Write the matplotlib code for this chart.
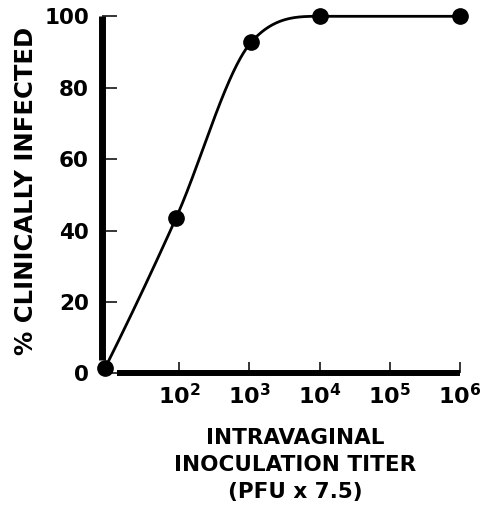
import numpy as np
import matplotlib
matplotlib.use("Agg")
import matplotlib.pyplot as plt

# ---- data ----
titer = [8.85, 90.6, 1070.0, 10000.0, 1000000.0]
pct_infected = [1.5, 43.5, 92.8, 100.0, 100.0]
x_ticks = [1e2, 1e3, 1e4, 1e5, 1e6]
x_tick_labels = [r"$\mathbf{10^{2}}$", r"$\mathbf{10^{3}}$", r"$\mathbf{10^{4}}$",
                 r"$\mathbf{10^{5}}$", r"$\mathbf{10^{6}}$"]
y_ticks = [0, 20, 40, 60, 80, 100]
y_tick_labels = ["0", "20", "40", "60", "80", "100"]


def smooth_curve(xk, yk, xq):
    """Cardinal (Catmull-Rom) Hermite connector, clamped to stay monotone."""
    xk = np.asarray(xk, float); yk = np.asarray(yk, float)
    h = np.diff(xk); d = np.diff(yk) / h
    n = len(xk); m = np.zeros(n)
    for k in range(1, n - 1):
        if d[k - 1] * d[k] > 0:
            s = (yk[k + 1] - yk[k - 1]) / (xk[k + 1] - xk[k - 1])
            m[k] = min(s, 3 * d[k - 1], 3 * d[k])
    m[0] = ((2 * h[0] + h[1]) * d[0] - h[0] * d[1]) / (h[0] + h[1])
    m[0] = min(max(m[0], 0), 3 * d[0])
    m[-1] = 0.0
    idx = np.clip(np.searchsorted(xk, xq) - 1, 0, n - 2)
    t = (xq - xk[idx]) / h[idx]
    h00 = 2 * t**3 - 3 * t**2 + 1; h10 = t**3 - 2 * t**2 + t
    h01 = -2 * t**3 + 3 * t**2; h11 = t**3 - t**2
    return (h00 * yk[idx] + h10 * h[idx] * m[idx]
            + h01 * yk[idx + 1] + h11 * h[idx] * m[idx + 1])


font = "DejaVu Sans"
plt.rcParams["mathtext.fontset"] = "dejavusans"
fig = plt.figure(figsize=(4.81, 5.16), dpi=100)
ax = fig.add_axes([0.2121, 0.2762, 0.7443, 0.6922])

u = np.log10(titer)
uq = np.linspace(u[0], u[-1], 400)
ax.plot(10**uq, smooth_curve(u, pct_infected, uq), color="black", lw=2.0,
        solid_capstyle="round", clip_on=False, zorder=3)
ax.plot(titer, pct_infected, "o", color="black", markersize=11,
        clip_on=False, zorder=4)

ax.set_xscale("log")
ax.set_xlim(10**0.904, 1e6)
ax.set_ylim(0, 100)

for s in ["top", "right"]:
    ax.spines[s].set_visible(False)
ax.spines["left"].set_linewidth(5.0)
ax.spines["left"].set_bounds(3.8, 100)
ax.spines["left"].set_capstyle("butt")
ax.spines["bottom"].set_linewidth(4.3)
ax.spines["bottom"].set_bounds(10**1.117, 1e6)
ax.spines["bottom"].set_capstyle("butt")

ax.set_xticks(x_ticks)
ax.set_xticklabels(x_tick_labels)
ax.xaxis.set_minor_locator(matplotlib.ticker.NullLocator())
ax.set_yticks(y_ticks)
ax.set_yticklabels(y_tick_labels)

ax.tick_params(axis="y", direction="in", length=11, width=1.1, pad=9.4,
               labelsize=15.5)
ax.tick_params(axis="x", direction="in", length=8, width=1.1, pad=7,
               labelsize=16)
for lab in ax.get_xticklabels() + ax.get_yticklabels():
    lab.set_fontweight("bold")
    lab.set_family(font)

ax.set_xlabel("INTRAVAGINAL\nINOCULATION TITER\n(PFU x 7.5)", fontsize=15.5,
              fontweight="bold", family=font, linespacing=1.45)
ax.xaxis.set_label_coords(0.54, -0.152)
ax.set_ylabel("% CLINICALLY INFECTED", fontsize=17.5, fontweight="bold",
              family=font)
ax.yaxis.set_label_coords(-0.18, 0.51)

fig.savefig("out.png", dpi=100)
